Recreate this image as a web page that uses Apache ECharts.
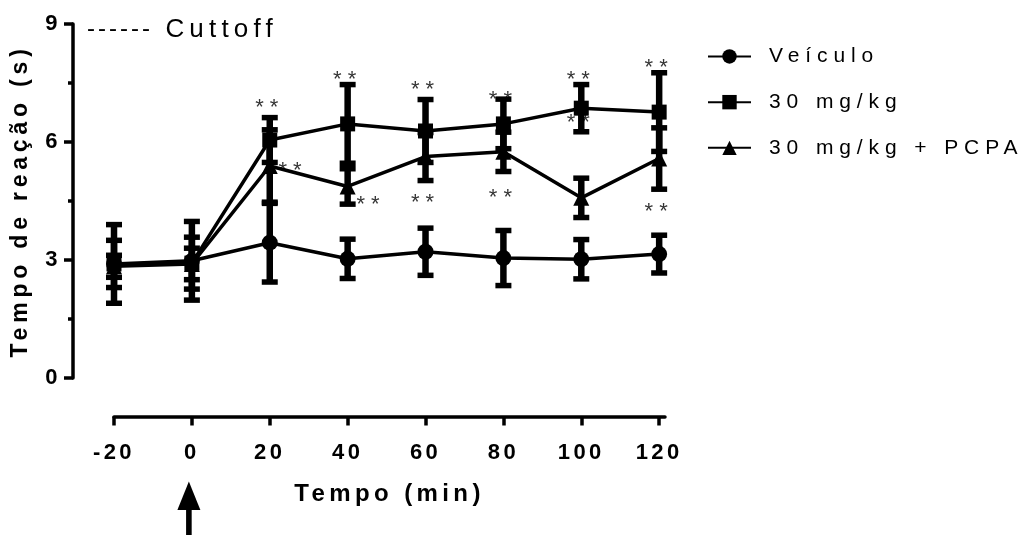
<!DOCTYPE html>
<html>
<head>
<meta charset="utf-8">
<script src="https://cdn.jsdelivr.net/npm/echarts@6/dist/echarts.min.js"></script>
<style>
  html, body { margin: 0; background: #fff; }
  #chart { width: 1030px; height: 535px; }
</style>
</head>
<body>
<div id="chart"></div>
<script>
// Prism-style wide tracking: canvas letterSpacing picked per font (weight + size)
const TRACKING = { n24: 3, n26: 5.2, n21: 5.9, n22: 6.0, b22: 3.4, b23: 4.8, b24: 4.4 };
const ctxProto = CanvasRenderingContext2D.prototype;
const rawFill = ctxProto.fillText;
const rawMeasure = ctxProto.measureText;
function setTracking(ctx) {
  const m = /(\d+(?:\.\d+)?)px/.exec(ctx.font);
  const key = (/bold/.test(ctx.font) ? 'b' : 'n') + (m ? Math.round(parseFloat(m[1])) : 0);
  ctx.letterSpacing = (TRACKING[key] || 0) + 'px';
}
ctxProto.fillText = function () { setTracking(this); return rawFill.apply(this, arguments); };
ctxProto.measureText = function () { setTracking(this); return rawMeasure.apply(this, arguments); };

// data (minutes / seconds)
const times = [-20, 0, 20, 40, 60, 80, 100, 120];
const tickValues = [-20, 0, 20, 40, 60, 80, 100, 120];

const veiculo = [2.90, 2.98, 3.44, 3.03, 3.21, 3.05, 3.02, 3.15];
const veiculoErr = [1.00, 1.00, 1.00, 0.50, 0.60, 0.70, 0.50, 0.48];

const dose30 = [2.90, 2.92, 6.05, 6.46, 6.28, 6.46, 6.86, 6.76];
const dose30Err = [0.60, 0.66, 0.57, 1.00, 0.80, 0.63, 0.60, 1.00];

const dosePcpa = [2.84, 2.90, 5.39, 4.87, 5.63, 5.75, 4.58, 5.58];
const dosePcpaErr = [0.28, 0.40, 0.92, 0.45, 0.61, 0.50, 0.50, 0.78];

// significance marks (**)
const sigTimes = [20, 40, 60, 80, 100, 120];
const sigDose30 = [7.00, 7.70, 7.45, 7.20, 7.70, 8.00];
const sigPcpaTimes = [26, 46, 60, 80, 100, 120];
const sigPcpa = [5.39, 4.53, 4.58, 4.70, 6.60, 4.36];

const FONT = 'Liberation Sans, Arial, sans-serif';
const BLACK = '#000';

const zip = (xs, ys) => xs.map((x, i) => [x, ys[i]]);

function lineSeries(name, values, symbol, size) {
  return {
    name,
    type: 'line',
    data: zip(times, values),
    symbol,
    symbolSize: size,
    clip: false,
    z: 3,
    lineStyle: { color: BLACK, width: 3.5 },
    itemStyle: { color: BLACK }
  };
}

function errorSeries(values, errs) {
  return {
    type: 'custom',
    clip: false,
    z: 2,
    data: times.map((t, i) => [t, values[i] - errs[i], values[i] + errs[i]]),
    encode: { x: 0, y: [1, 2] },
    renderItem(params, api) {
      const lo = api.coord([api.value(0), api.value(1)]);
      const hi = api.coord([api.value(0), api.value(2)]);
      const x = lo[0];
      const stem = 6.5, cap = 16, capH = 5.5;
      return {
        type: 'group',
        children: [
          { type: 'rect', shape: { x: x - stem / 2, y: hi[1], width: stem, height: lo[1] - hi[1] }, style: { fill: BLACK } },
          { type: 'rect', shape: { x: x - cap / 2, y: hi[1] - capH / 2, width: cap, height: capH }, style: { fill: BLACK } },
          { type: 'rect', shape: { x: x - cap / 2, y: lo[1] - capH / 2, width: cap, height: capH }, style: { fill: BLACK } }
        ]
      };
    }
  };
}

function sigSeries(xs, ys) {
  return {
    type: 'scatter',
    data: zip(xs, ys),
    symbolSize: 1,
    clip: false,
    z: 4,
    itemStyle: { color: 'rgba(0,0,0,0)' },
    label: {
      show: true,
      position: 'inside',
      formatter: '**',
      color: BLACK,
      fontSize: 22,
      fontFamily: FONT,
      offset: [0, 5]
    },
    emphasis: { disabled: true }
  };
}

const chart = echarts.init(document.getElementById('chart'), null, { renderer: 'canvas' });

const option = {
  animation: false,
  textStyle: { fontFamily: FONT, color: BLACK },
  title: {
    text: '{d|------} Cuttoff',
    left: 87,
    top: 14,
    padding: 0,
    textStyle: {
      fontFamily: FONT, fontSize: 26, fontWeight: 'normal', color: BLACK,
      rich: { d: { fontFamily: FONT, fontSize: 24, color: BLACK } }
    }
  },
  legend: {
    orient: 'vertical',
    left: 707,
    top: 43,
    padding: 0,
    itemGap: 18.8,
    itemWidth: 43,
    itemHeight: 18,
    data: ['Veículo', '30 mg/kg', '30 mg/kg + PCPA'],
    textStyle: { fontFamily: FONT, fontSize: 21, color: BLACK, padding: [0, 0, 0, 13] }
  },
  grid: { left: 114, right: 365, top: 24, bottom: 157, outerBoundsMode: 'none' },
  xAxis: {
    type: 'value',
    min: -20,
    max: 121.5,
    interval: 20,
    offset: 38.5,
    name: 'Tempo (min)',
    nameLocation: 'middle',
    nameGap: 63.5,
    nameTextStyle: { fontFamily: FONT, fontSize: 24, fontWeight: 'bold', color: BLACK },
    axisLine: { onZero: false, lineStyle: { color: BLACK, width: 3.5 } },
    axisTick: { length: 9, customValues: tickValues, lineStyle: { color: BLACK, width: 3.5 } },
    axisLabel: { customValues: tickValues, margin: 24, fontFamily: FONT, fontSize: 22, fontWeight: 'bold', color: BLACK },
    splitLine: { show: false }
  },
  yAxis: {
    type: 'value',
    min: 0,
    max: 9,
    interval: 3,
    offset: 41,
    name: 'Tempo de reação (s)',
    nameLocation: 'middle',
    nameGap: 24,
    nameTextStyle: { fontFamily: FONT, fontSize: 23, fontWeight: 'bold', color: BLACK },
    axisLine: { show: true, onZero: false, lineStyle: { color: BLACK, width: 3.5 } },
    axisTick: { show: true, length: 9, lineStyle: { color: BLACK, width: 3.5 } },
    minorTick: { show: true, splitNumber: 2, length: 5, lineStyle: { color: BLACK, width: 3.5 } },
    axisLabel: { margin: 12, fontFamily: FONT, fontSize: 22, fontWeight: 'bold', color: BLACK },
    splitLine: { show: false }
  },
  series: [
    errorSeries(veiculo, veiculoErr),
    errorSeries(dose30, dose30Err),
    errorSeries(dosePcpa, dosePcpaErr),
    lineSeries('Veículo', veiculo, 'circle', 16),
    lineSeries('30 mg/kg', dose30, 'rect', 15),
    lineSeries('30 mg/kg + PCPA', dosePcpa, 'triangle', 16),
    sigSeries(sigTimes, sigDose30),
    sigSeries(sigPcpaTimes, sigPcpa)
  ]
};

chart.setOption(option);

// injection arrow under t = 0
const x0 = chart.convertToPixel({ xAxisIndex: 0 }, 0) - 3;
chart.setOption({
  graphic: [
    { type: 'polygon', shape: { points: [[x0 - 11.5, 510], [x0 + 11.5, 510], [x0, 481.5]] }, style: { fill: BLACK } },
    { type: 'rect', shape: { x: x0 - 2.8, y: 509, width: 5.6, height: 30 }, style: { fill: BLACK } }
  ]
});
</script>
</body>
</html>
